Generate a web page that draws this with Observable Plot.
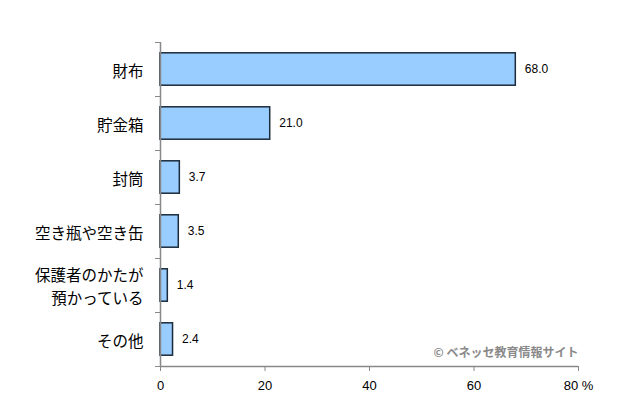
<!DOCTYPE html>
<html><head><meta charset="utf-8">
<script src="https://cdn.jsdelivr.net/npm/d3@7"></script>
<script src="https://cdn.jsdelivr.net/npm/@observablehq/plot@0.6"></script>
<style>
body{margin:0;background:#fff;}
svg{display:block;}
</style>
</head><body>
<div id="chart"></div>
<script>
const categories = ["財布", "貯金箱", "封筒", "空き瓶や空き缶", "保護者のかたが\n預かっている", "その他"];
const values = [68.0, 21.0, 3.7, 3.5, 1.4, 2.4];
const xTicks = [0, 20, 40, 60, 80];
const copyright = "© ベネッセ教育情報サイト";

const data = categories.map((c, i) => ({cat: c, value: values[i], idx: i}));
const boundaries = d3.range(categories.length + 1);

const chart = Plot.plot({
  width: 640,
  height: 409,
  marginLeft: 160,
  marginRight: 62,
  marginTop: 42,
  marginBottom: 43,
  style: {fontFamily: "'Liberation Sans', Arial, sans-serif", fontSize: "13px", color: "#000", background: "#fff"},
  x: {domain: [0, 80], label: null},
  y: {domain: [0, categories.length], reverse: true, label: null},
  marks: [
    Plot.rectX(data, {x1: 0, x2: "value", y1: d => d.idx + 0.2, y2: d => d.idx + 0.8, fill: "#99ccff", stroke: "#1b2b3b", strokeWidth: 1.5}),
    Plot.axisY({ticks: boundaries, tickFormat: () => "", tickSize: 5, stroke: "#888", label: null}),
    Plot.axisX({ticks: xTicks, tickSize: 5, tickPadding: 9, stroke: "#888", fontSize: 13, tickFormat: d => d === 80 ? "80 %" : String(d), label: null}),
    Plot.ruleX([0], {stroke: "#888", strokeWidth: 1.5}),
    Plot.ruleY([categories.length], {stroke: "#888", strokeWidth: 1.5}),
    Plot.text(data, {x: 0, y: d => d.idx + 0.5, text: "cat", textAnchor: "end", dx: -17, fontFamily: "'Noto Sans CJK JP', sans-serif", fontSize: 15.5, lineHeight: 1.45, fill: "#000"}),
    Plot.text(data, {x: "value", y: d => d.idx + 0.5, text: d => d.value.toFixed(1), textAnchor: "start", dx: 9, fontSize: 12, fill: "#000"}),
    Plot.text([copyright], {frameAnchor: "bottom-right", dy: -10, dx: 0, textAnchor: "end", fontFamily: "'Noto Sans CJK JP', sans-serif", fontWeight: "bold", fontSize: 12, fill: "#8a8a8a"})
  ]
});
document.getElementById("chart").appendChild(chart);
</script>
</body></html>
